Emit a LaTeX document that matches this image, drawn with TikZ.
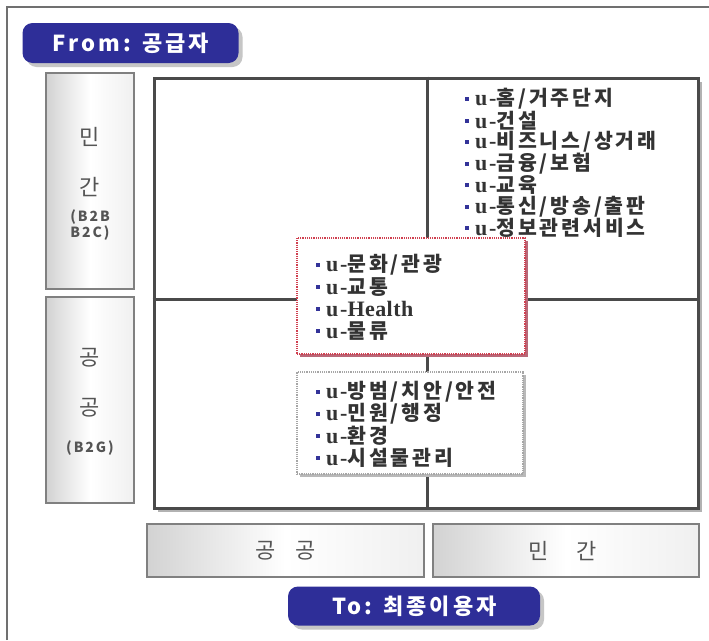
\documentclass[tikz,border=0pt]{standalone}
\usepackage{fontspec}
\newfontfamily\kr{Noto Sans CJK KR}[LetterSpace=6]
\newfontfamily\krs{Noto Sans CJK KR}[LetterSpace=14]
\newfontfamily\krb{Noto Sans CJK KR}[LetterSpace=14]
\newfontfamily\lser{Liberation Serif}[LetterSpace=8]
\newfontfamily\lsert{Liberation Serif}[LetterSpace=2]
\definecolor{badgeblue}{HTML}{2E2E98}
\definecolor{framegray}{HTML}{707070}
\definecolor{gridgray}{HTML}{4A4A4A}
\definecolor{boxgray}{HTML}{808080}
\definecolor{sidetext}{HTML}{555555}
\definecolor{listtext}{HTML}{333333}
\definecolor{bulletblue}{HTML}{333399}
\definecolor{redline}{HTML}{D04050}
\definecolor{redshadow}{HTML}{B86878}
\newcommand\uit[1]{{\lser\bfseries\fontsize{22}{22}\selectfont u-}#1}
\begin{document}
\begin{tikzpicture}[x=1pt,y=-1pt,
  badge/.style={rectangle, rounded corners=10pt, fill=badgeblue, draw=none, inner sep=0pt},
  badgeshadow/.style={rectangle, rounded corners=10pt, fill=gray!45, draw=none, inner sep=0pt},
  badgetext/.style={text=white, inner sep=0pt, font=\krb\bfseries\fontsize{22}{22}\selectfont},
  sidebox/.style={rectangle, draw=boxgray, line width=2.5pt, left color=gray!35, right color=gray!12, middle color=white, inner sep=0pt},
  sidetxt/.style={text=sidetext, inner sep=0pt, font=\kr\fontsize{22}{22}\selectfont},
  sidesmall/.style={text=sidetext, inner sep=0pt, align=center, font=\krb\bfseries\fontsize{14}{16}\selectfont},
  gridbox/.style={rectangle, draw=gridgray, line width=3pt, fill=white, inner sep=0pt},
  gridshadow/.style={rectangle, fill=gray!60, draw=none, inner sep=0pt},
  gridline/.style={draw=gridgray, line width=3pt},
  redbox/.style={rectangle, draw=redline, densely dotted, line width=1.2pt, fill=white, inner sep=0pt},
  redsh/.style={rectangle, fill=redshadow, draw=none, inner sep=0pt},
  graybox/.style={rectangle, draw=gray!70, densely dotted, line width=1.2pt, fill=white, inner sep=0pt},
  graysh/.style={rectangle, fill=gray!55, draw=none, inner sep=0pt},
  itemtext/.style={text=listtext, inner sep=0pt, anchor=west, font=\krs\bfseries\fontsize{20.5}{20.5}\selectfont},
  bul/.style={rectangle, fill=bulletblue, draw=none, inner sep=0pt, minimum width=4pt, minimum height=4pt}
]
\useasboundingbox (0,0) rectangle (709,640);
\fill[white] (0,0) rectangle (709,640);
\draw[framegray, line width=1.5pt] (7,640) -- (7,7) -- (709,7);

% From badge
\node[badgeshadow, minimum width=216pt, minimum height=40pt] (fromsh) at (134.5,47) {};
\node[badge, minimum width=216pt, minimum height=40pt] (from) at (130.5,43) {};
\node[badgetext] (fromt) at (131,43) {From: 공급자};

% side boxes
\node[sidebox, minimum width=88pt, minimum height=216pt] (priv) at (90,181) {};
\node[sidetxt] (privA) at (90,137) {민};
\node[sidetxt] (privB) at (90,187) {간};
\node[sidesmall] (privC) at (90,225) {(B2B\\B2C)};

\node[sidebox, minimum width=88pt, minimum height=206pt] (pub) at (90,400) {};
\node[sidetxt] (pubA) at (90,358) {공};
\node[sidetxt] (pubB) at (90,408) {공};
\node[sidesmall] (pubC) at (90,448) {(B2G)};

% grid
\node[gridshadow, minimum width=544pt, minimum height=430pt] (gridsh) at (430,297) {};
\node[gridbox, minimum width=544pt, minimum height=430pt] (grid) at (426,293) {};
\draw[gridline] (grid.west |- 0,299) -- (grid.east |- 0,299);
\draw[gridline] (grid.north -| 427,0) -- (grid.south -| 427,0);

% top-right list
\foreach \t [count=\i] in {홈/거주단지, 건설, 비즈니스/상거래, 금융/보험, 교육, 통신/방송/출판, 정보관련서비스}{
  \pgfmathsetmacro\yy{99+(\i-1)*21.5}
  \node[bul] (trb\i) at (467,\yy) {};
  \node[itemtext] (tr\i) at (475,\yy) {\uit{\t}};
}

% red box
\node[redsh, minimum width=228pt, minimum height=116pt] (redbsh) at (414,299) {};
\node[redbox, minimum width=228pt, minimum height=116pt] (redb) at (411,296) {};
\foreach \t [count=\i] in {문화/관광, 교통, {{\lsert\bfseries\fontsize{22}{22}\selectfont Health}}, 물류}{
  \pgfmathsetmacro\yy{265+(\i-1)*22}
  \node[bul] (rb\i) at (318,\yy) {};
  \node[itemtext] (r\i) at (326,\yy) {\uit{\t}};
}

% gray box
\node[graysh, minimum width=226pt, minimum height=102pt] (grybsh) at (413,426) {};
\node[graybox, minimum width=226pt, minimum height=102pt] (gryb) at (410,423) {};
\foreach \t [count=\i] in {방범/치안/안전, 민원/행정, 환경, 시설물관리}{
  \pgfmathsetmacro\yy{392+(\i-1)*22}
  \node[bul] (gb\i) at (318,\yy) {};
  \node[itemtext] (g\i) at (326,\yy) {\uit{\t}};
}

% bottom boxes
\node[sidebox, minimum width=277pt, minimum height=53pt] (bpub) at (285.5,550.5) {};
\node[sidetxt] (bpubt) at (285.5,551) {공\hspace{20pt}공};
\node[sidebox, minimum width=266pt, minimum height=53pt] (bpriv) at (566,550.5) {};
\node[sidetxt] (bprivt) at (563,551) {민\hspace{28pt}간};

% To badge
\node[badgeshadow, minimum width=252pt, minimum height=39pt] (tosh) at (418,610) {};
\node[badge, minimum width=252pt, minimum height=39pt] (to) at (414,606) {};
\node[badgetext] (tot) at (414.5,606) {To: 최종이용자};
\end{tikzpicture}
\end{document}
